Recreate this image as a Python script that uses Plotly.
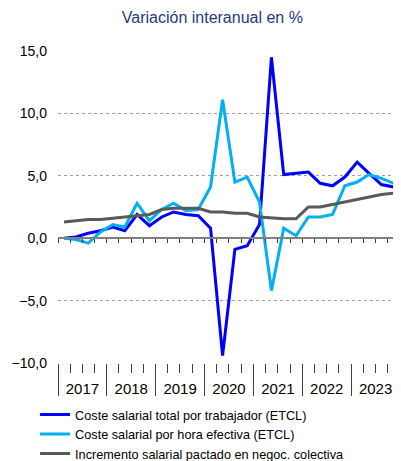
import plotly.graph_objects as go
import pandas as pd

years = [2017, 2018, 2019, 2020, 2021, 2022, 2023]
quarters = [f"{y}-{m:02d}-15" for y in years for m in (2, 5, 8, 11)]

coste_trabajador = [0.0, 0.1, 0.4, 0.6, 0.9, 0.6, 1.9, 1.0, 1.7, 2.1, 1.9, 1.8,
                    0.8, -9.4, -0.9, -0.6, 1.1, 14.5, 5.1, 5.2, 5.3, 4.4, 4.2, 4.9,
                    6.1, 5.2, 4.3, 4.1]
coste_hora = [0.0, -0.1, -0.4, 0.5, 1.1, 0.9, 2.8, 1.4, 2.3, 2.8, 2.2, 2.3,
              4.1, 11.1, 4.5, 4.9, 2.9, -4.2, 0.8, 0.2, 1.7, 1.7, 1.9, 4.2,
              4.5, 5.1, 4.8, 4.4]
incremento_pactado = [1.3, 1.4, 1.5, 1.5, 1.6, 1.7, 1.8, 1.9, 2.3, 2.4, 2.4, 2.4,
                      2.1, 2.1, 2.0, 2.0, 1.7, 1.6, 1.55, 1.55, 2.5, 2.5, 2.7, 2.9,
                      3.1, 3.3, 3.5, 3.6]

names = ["Coste salarial total por trabajador (ETCL)",
         "Coste salarial por hora efectiva (ETCL)",
         "Incremento salarial pactado en negoc. colectiva"]
colors = ["#0000ff", "#00b0f0", "#595959"]

x = pd.to_datetime(quarters)
fig = go.Figure()
for serie, name, color in zip([coste_trabajador, coste_hora, incremento_pactado], names, colors):
    fig.add_trace(go.Scatter(x=x, y=serie, mode="lines", name=name,
                             line=dict(color=color, width=3)))

# eje del cero con marcas trimestrales
fig.add_trace(go.Scatter(x=[x[0]], y=[None], xaxis="x2", showlegend=False, hoverinfo="skip"))

xrange = ["2017-01-01", "2024-01-01"]
fig.update_layout(
    width=393, height=470,
    margin=dict(l=50, r=1, t=43, b=115),
    plot_bgcolor="white", paper_bgcolor="white",
    font=dict(family="Liberation Sans, Arial", size=14, color="#000000"),
    separators=",.",
    title=dict(text="Variación interanual en %", x=0.52, xanchor="center",
               y=0.979, yanchor="middle", automargin=False,
               font=dict(size=16, color="#1f3a7a")),
    xaxis=dict(type="date", range=xrange, dtick="M12", tick0="2017-01-01",
               tickformat="%Y", ticklabelmode="period", ticks="outside",
               ticklen=32, tickcolor="#404040", tickwidth=1,
               minor=dict(dtick="M3", ticklen=9, tickcolor="#404040", ticks="outside"),
               showgrid=False, showline=False, ticklabelstandoff=-20,
               tickfont=dict(size=15), automargin=False),
    xaxis2=dict(type="date", range=xrange, overlaying="x", anchor="free", position=0.4,
                dtick="M3", tick0="2017-01-01", ticks="outside", ticklen=4,
                tickcolor="#404040", showticklabels=False, showgrid=False,
                showline=True, linecolor="#808080", linewidth=1.5, automargin=False),
    yaxis=dict(range=[-10, 15], dtick=5, tickformat=".1f", showgrid=True,
               gridcolor="#a0a0a0", griddash="dot", gridwidth=1, zeroline=False,
               showline=False, ticks="", ticklabelstandoff=10, automargin=False),
    legend=dict(x=-0.067, y=-0.118, xanchor="left", yanchor="top",
                font=dict(size=12.7), tracegroupgap=0, itemwidth=30,
                bgcolor="rgba(0,0,0,0)"),
)

fig.write_html("out.html")
